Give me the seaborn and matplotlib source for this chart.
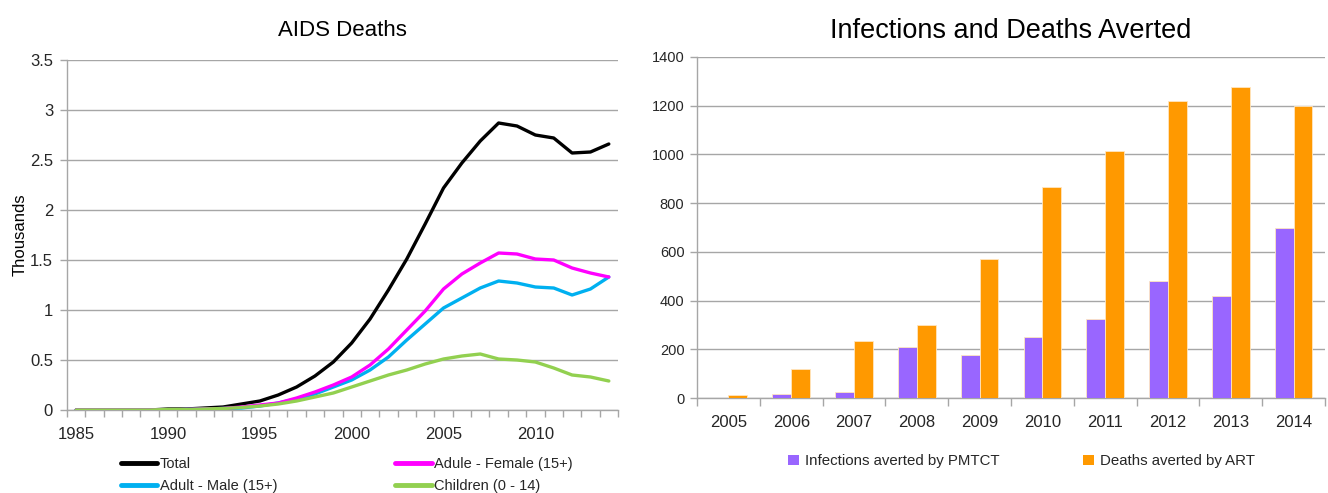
import numpy as np
import pandas as pd
import matplotlib
matplotlib.use("Agg")
import matplotlib.pyplot as plt
from matplotlib.lines import Line2D
from matplotlib.patches import Patch
import seaborn as sns

# ---- AIDS deaths (thousands), 1985-2014 ----
years = list(range(1985, 2015))
total = [0, 0, 0, 0, 0, 0.01, 0.01, 0.02, 0.03, 0.06, 0.09, 0.15, 0.23, 0.34, 0.48,
         0.67, 0.91, 1.20, 1.51, 1.86, 2.22, 2.47, 2.69, 2.87, 2.84, 2.75, 2.72, 2.57, 2.58, 2.66]
female = [0, 0, 0, 0, 0, 0, 0.005, 0.01, 0.015, 0.03, 0.05, 0.07, 0.12, 0.18, 0.25,
          0.33, 0.45, 0.61, 0.80, 0.99, 1.21, 1.36, 1.47, 1.57, 1.56, 1.51, 1.50, 1.42, 1.37, 1.33]
male = [0, 0, 0, 0, 0, 0, 0.005, 0.01, 0.015, 0.02, 0.04, 0.07, 0.11, 0.16, 0.23,
        0.30, 0.40, 0.53, 0.70, 0.86, 1.02, 1.12, 1.22, 1.29, 1.27, 1.23, 1.22, 1.15, 1.21, 1.33]
children = [0, 0, 0, 0, 0, 0.005, 0.005, 0.01, 0.015, 0.025, 0.04, 0.06, 0.09, 0.13, 0.17,
            0.23, 0.29, 0.35, 0.40, 0.46, 0.51, 0.54, 0.56, 0.51, 0.50, 0.48, 0.42, 0.35, 0.33, 0.29]
line_labels = ["Total", "Adult - Male (15+)", "Adule - Female (15+)", "Children (0 - 14)"]
line_colors = ["#000000", "#00B0F0", "#FF00FF", "#92D050"]

# ---- Infections and deaths averted ----
bar_years = ["2005", "2006", "2007", "2008", "2009", "2010", "2011", "2012", "2013", "2014"]
pmtct = [0, 16, 23, 210, 178, 249, 325, 479, 418, 697]
art = [14, 120, 236, 300, 571, 866, 1015, 1220, 1277, 1200]
bar_labels = ["Infections averted by PMTCT", "Deaths averted by ART"]
bar_colors = ["#9966FF", "#FF9900"]

sns.set_theme(style="white")
regular = ["Liberation Sans", "DejaVu Sans"]
plt.rcParams["font.family"] = regular

grid_c = "#A6A6A6"
axis_c = "#A6A6A6"
text_c = "#262626"

fig = plt.figure(figsize=(13.28, 4.93), dpi=100)
ax1 = fig.add_axes([67 / 1328, 1 - 410 / 493, 551 / 1328, 350 / 493])
ax2 = fig.add_axes([697 / 1328, 1 - 398 / 493, 628 / 1328, 341 / 493])

# ---------- left: line chart ----------
lines_df = pd.DataFrame({
    "Year": years * 4,
    "Deaths": total + male + female + children,
    "Group": sum([[lab] * len(years) for lab in line_labels], []),
})
sns.lineplot(data=lines_df, x="Year", y="Deaths", hue="Group", hue_order=line_labels,
             palette=line_colors, linewidth=2.4, ax=ax1, legend=False, zorder=3)
ax1.set_xlim(1984.5, 2014.5)
ax1.set_ylim(0, 3.5)
ax1.set_yticks(np.arange(0, 3.51, 0.5))
ax1.set_yticklabels(["0", "0.5", "1", "1.5", "2", "2.5", "3", "3.5"])
ax1.set_xticks([1985, 1990, 1995, 2000, 2005, 2010])
ax1.set_xticks(np.arange(1984.5, 2015, 1), minor=True)
ax1.tick_params(axis="x", which="major", length=0, pad=12, labelsize=12, labelcolor=text_c)
ax1.tick_params(axis="x", which="minor", length=5, width=1, color=axis_c, direction="out", bottom=True)
ax1.tick_params(axis="y", which="major", length=5, width=1, color=axis_c, direction="out",
                left=True, pad=5, labelsize=12, labelcolor=text_c)
ax1.grid(axis="y", color=grid_c, linewidth=1)
ax1.grid(axis="x", visible=False)
for s in ["top", "right"]:
    ax1.spines[s].set_visible(False)
for s in ["left", "bottom"]:
    ax1.spines[s].set_color(axis_c)
    ax1.spines[s].set_linewidth(1)
ax1.set_xlabel("")
ax1.set_ylabel("Thousands", fontsize=12, labelpad=2, color="#000000")
ax1.set_title("AIDS Deaths", fontsize=16, pad=17, color="#000000")

handles1 = [Line2D([0], [0], color=c, lw=3.5) for c in line_colors]
ax1.legend(handles1, line_labels, ncol=2, loc="upper left", bbox_to_anchor=(0.098, -0.135),
           frameon=False, handlelength=2.5, handletextpad=0.15, columnspacing=8.1,
           labelspacing=0.55, borderaxespad=0, borderpad=0,
           prop={"size": 10.5})

# ---------- right: grouped bars ----------
bars_df = pd.DataFrame({
    "Year": bar_years * 2,
    "Value": pmtct + art,
    "Series": [bar_labels[0]] * len(bar_years) + [bar_labels[1]] * len(bar_years),
})
sns.barplot(data=bars_df, x="Year", y="Value", hue="Series", hue_order=bar_labels,
            palette=bar_colors, width=0.6, saturation=1, ax=ax2, legend=False,
            edgecolor="#FFE6C0", linewidth=0.6, zorder=3)
ax2.set_xlim(-0.5, len(bar_years) - 0.5)
ax2.set_ylim(0, 1400)
ax2.set_yticks(np.arange(0, 1401, 200))
ax2.set_xticks(np.arange(-0.5, len(bar_years), 1), minor=True)
ax2.tick_params(axis="x", which="major", length=0, pad=12, labelsize=12, labelcolor=text_c)
ax2.tick_params(axis="x", which="minor", length=6, width=1, color=axis_c, direction="out", bottom=True)
ax2.tick_params(axis="y", which="major", length=5, width=1, color=axis_c, direction="out",
                left=True, pad=4, labelsize=10.5, labelcolor=text_c)
ax2.grid(axis="y", color=grid_c, linewidth=1)
ax2.grid(axis="x", visible=False)
ax2.set_axisbelow(True)
for s in ["top", "right"]:
    ax2.spines[s].set_visible(False)
for s in ["left", "bottom"]:
    ax2.spines[s].set_color(axis_c)
    ax2.spines[s].set_linewidth(1)
ax2.set_xlabel("")
ax2.set_ylabel("")
ax2.set_title("Infections and Deaths Averted", fontsize=19.5, pad=14, color="#000000")

handles2 = [Patch(facecolor=c, edgecolor="none") for c in bar_colors]
ax2.legend(handles2, bar_labels, ncol=2, loc="upper left", bbox_to_anchor=(0.145, -0.165),
           frameon=False, handlelength=0.7, handleheight=0.7, handletextpad=0.4,
           columnspacing=5.6, borderaxespad=0, borderpad=0, prop={"size": 10.8})

fig.savefig("out.png", dpi=100)
